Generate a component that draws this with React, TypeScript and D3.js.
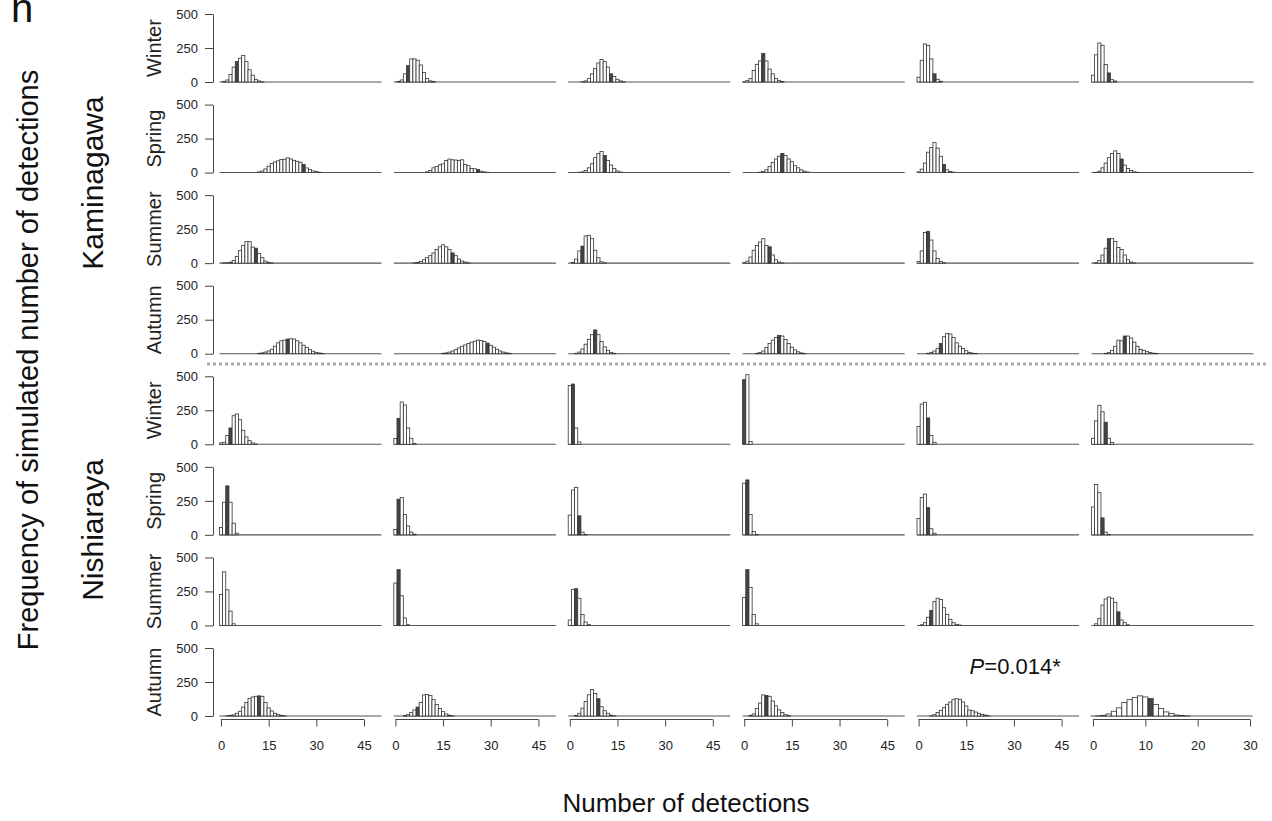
import { useEffect, useRef } from 'react';
import * as d3 from 'd3';

const seasons = ['Winter', 'Spring', 'Summer', 'Autumn'];
const sites = ['Kaminagawa', 'Nishiaraya'];

// simulated frequencies, index = number of detections (0, 1, 2, ...), one list per column
const kaminagawaWinter = [
    [0, 3, 15, 55, 110, 150, 175, 195, 150, 90, 50, 20, 8, 2],
    [0, 3, 15, 60, 120, 170, 170, 160, 125, 70, 25, 8, 3],
    [0, 0, 0, 0, 2, 8, 25, 60, 100, 140, 165, 150, 110, 60, 40, 20, 8, 2],
    [2, 10, 25, 85, 130, 155, 210, 155, 95, 60, 25, 10, 3],
    [35, 160, 280, 270, 170, 60, 20, 5],
    [50, 200, 287, 270, 128, 67, 17, 7],
];
const kaminagawaSpring = [
    [0, 0, 0, 0, 0, 0, 0, 0, 0, 0, 0, 0, 5, 12, 27, 47, 66, 78, 86, 96, 98, 108, 100, 90, 83, 76, 59, 34, 22, 12, 7, 3],
    [0, 0, 0, 0, 0, 0, 0, 0, 0, 0, 5, 15, 35, 45, 57, 64, 89, 99, 94, 92, 89, 94, 59, 50, 30, 28, 22, 10, 5, 2],
    [0, 0, 0, 2, 5, 15, 35, 65, 110, 140, 155, 125, 90, 55, 30, 12, 4],
    [0, 0, 0, 0, 0, 3, 8, 20, 45, 75, 100, 120, 140, 125, 100, 80, 50, 35, 20, 10, 4],
    [5, 25, 70, 150, 185, 220, 180, 120, 60, 20, 8, 3],
    [0, 2, 10, 35, 70, 110, 140, 160, 140, 100, 55, 30, 15, 5, 2],
];
const kaminagawaSummer = [
    [0, 2, 3, 7, 20, 50, 92, 129, 158, 158, 118, 110, 70, 40, 15, 5, 2],
    [0, 0, 0, 0, 0, 0, 2, 5, 12, 25, 40, 55, 75, 100, 120, 135, 120, 100, 75, 55, 30, 15, 8, 3],
    [0, 5, 30, 90, 125, 200, 205, 180, 95, 40, 10, 3],
    [3, 15, 45, 95, 130, 155, 180, 130, 120, 60, 25, 8, 2],
    [12, 90, 225, 232, 170, 90, 35, 12, 3],
    [0, 3, 20, 60, 110, 180, 180, 160, 115, 100, 60, 25, 8, 2],
];
const kaminagawaAutumn = [
    [0, 0, 0, 0, 0, 0, 0, 0, 0, 0, 0, 0, 3, 6, 12, 20, 33, 55, 80, 95, 100, 108, 110, 108, 95, 80, 62, 45, 30, 18, 10, 5, 2],
    [0, 0, 0, 0, 0, 0, 0, 0, 0, 0, 0, 0, 0, 0, 0, 3, 6, 12, 20, 30, 42, 55, 65, 75, 85, 92, 100, 97, 90, 78, 62, 48, 33, 20, 12, 6, 3],
    [0, 0, 3, 12, 35, 70, 105, 140, 175, 140, 90, 50, 25, 10, 3],
    [0, 0, 0, 0, 3, 8, 20, 45, 75, 100, 120, 135, 130, 105, 75, 48, 28, 14, 6, 2],
    [0, 0, 0, 3, 8, 20, 40, 75, 125, 150, 145, 120, 80, 55, 38, 22, 10, 4, 2],
    [0, 0, 0, 0, 3, 8, 25, 55, 100, 95, 130, 130, 115, 85, 55, 32, 25, 15, 8, 4, 2],
];
const nishiarayaWinter = [
    [10, 15, 64, 120, 210, 223, 181, 103, 54, 27, 10, 2],
    [42, 191, 311, 289, 120, 44, 7],
    [432, 443, 120, 17],
    [475, 512, 20],
    [132, 296, 309, 194, 64, 15],
    [44, 172, 287, 239, 162, 44, 13],
];
const nishiarayaSpring = [
    [54, 240, 360, 240, 86, 12],
    [40, 262, 275, 150, 65, 20, 5],
    [145, 330, 350, 140, 20, 3],
    [380, 404, 150, 25, 3],
    [120, 275, 300, 200, 45, 12],
    [205, 370, 310, 125, 20, 3],
];
const nishiarayaSummer = [
    [228, 394, 262, 105, 12],
    [312, 410, 218, 55, 5],
    [40, 265, 270, 200, 80, 25, 6],
    [205, 410, 280, 80, 12],
    [0, 5, 20, 60, 110, 175, 200, 190, 130, 80, 45, 20, 8, 3],
    [0, 12, 50, 150, 195, 209, 200, 170, 100, 40, 20, 5],
];
const nishiarayaAutumn = [
    [0, 0, 2, 5, 8, 20, 35, 66, 100, 130, 140, 145, 148, 145, 100, 60, 37, 20, 10, 5, 2],
    [0, 0, 0, 3, 10, 25, 45, 66, 100, 155, 158, 150, 120, 85, 55, 32, 15, 6, 2],
    [0, 0, 3, 20, 58, 107, 156, 195, 165, 127, 68, 39, 20, 6, 2],
    [0, 0, 5, 15, 55, 95, 155, 150, 145, 110, 75, 45, 25, 10, 3],
    [0, 0, 0, 0, 2, 10, 25, 42, 61, 86, 103, 123, 127, 123, 103, 74, 44, 39, 29, 20, 12, 7, 2],
    [0, 1, 5, 15, 35, 60, 100, 120, 135, 148, 140, 128, 85, 55, 30, 18, 7, 3, 1],
];

// observed number of detections (dark bar), -1 = outside the drawn bars
const observedKaminagawa = [
    [5, 4, 13, 6, 5, 5],
    [26, 26, 11, 12, 8, 9],
    [11, 18, 4, 8, 3, 5],
    [21, 29, 8, 11, 7, 10],
];
const observedNishiaraya = [
    [3, 1, 1, 0, 3, 4],
    [2, 1, 3, 1, 3, 3],
    [-1, 1, 2, 1, 4, 8],
    [12, 7, 9, 7, -1, 11],
];

const xTicksWide = [0, 15, 30, 45];
const xTicksNarrow = [0, 10, 20, 30];
const yTicks = [0, 250, 500];
const pValue = '0.014*';

const FONT = "'Liberation Sans', Arial, Helvetica, sans-serif";

const App = () => {
    const svgRef = useRef<SVGSVGElement>(null);

    useEffect(() => {
        if (!svgRef.current) return;
        const svg = d3.select(svgRef.current);
        svg.selectAll('*').remove();

        const rows = [
            kaminagawaWinter, kaminagawaSpring, kaminagawaSummer, kaminagawaAutumn,
            nishiarayaWinter, nishiarayaSpring, nishiarayaSummer, nishiarayaAutumn,
        ];
        const observed = [...observedKaminagawa, ...observedNishiaraya];

        // panel grid: x of "0" per column, baseline y per row
        const colPos = d3.scaleLinear().domain([0, 5]).range([221, 1093]);
        const rowPos = d3.scaleLinear().domain([0, 7]).range([82, 716]);
        const unitWide = 143 / 45;
        const unitNarrow = 157 / 30;
        const panelH = 68;

        const g = svg.append('g').style('font-family', FONT);

        rows.forEach((row, r) => {
            const base = rowPos(r);
            const y = d3.scaleLinear().domain([0, 500]).range([base, base - panelH]);

            // y axis
            const ya = g.append('g')
                .attr('transform', `translate(213,0)`)
                .call(d3.axisLeft(y).tickValues(yTicks).tickSize(8).tickPadding(7).tickSizeOuter(0));
            ya.select('.domain').attr('stroke', '#444').attr('stroke-width', 1);
            ya.selectAll('.tick line').attr('stroke', '#444');
            ya.selectAll('.tick text').attr('fill', '#222').style('font-size', '13px').style('font-family', FONT);

            // season label
            g.append('text')
                .attr('transform', `translate(161,${base - panelH / 2}) rotate(-90)`)
                .attr('text-anchor', 'middle')
                .attr('fill', '#222')
                .style('font-size', '20px')
                .text(seasons[r % 4]);

            row.forEach((counts, c) => {
                const narrow = r === 7 && c === 5;
                const maxBin = narrow ? 30 : 50;
                const unit = narrow ? unitNarrow : unitWide;
                const x0 = colPos(c);
                const x = d3.scaleLinear()
                    .domain([-0.5, maxBin + 0.5])
                    .range([x0 - 0.5 * unit, x0 + (maxBin + 0.5) * unit]);
                const obs = observed[r][c];

                // zero-height bins form the baseline
                g.append('line')
                    .attr('x1', x(-0.5)).attr('x2', x(maxBin + 0.5))
                    .attr('y1', y(0)).attr('y2', y(0))
                    .attr('stroke', '#555').attr('stroke-width', 1.1);

                const bins = counts.map((v, i) => ({ i, v })).filter(d => d.v > 0);
                g.append('g').selectAll('rect')
                    .data(bins)
                    .enter().append('rect')
                    .attr('x', d => x(d.i - 0.5))
                    .attr('y', d => y(d.v))
                    .attr('width', d => x(d.i + 0.5) - x(d.i - 0.5))
                    .attr('height', d => y(0) - y(d.v))
                    .attr('fill', d => (d.i === obs ? '#444' : '#fff'))
                    .attr('stroke', '#333')
                    .attr('stroke-width', 0.8);

                // x axis only under the last row
                if (r === 7) {
                    const ticks = narrow ? xTicksNarrow : xTicksWide;
                    const xa = g.append('g')
                        .attr('transform', `translate(0,${base + 3.5})`)
                        .call(d3.axisBottom(x).tickValues(ticks).tickSize(7).tickPadding(14));
                    xa.select('.domain').remove();
                    xa.append('line')
                        .attr('x1', x(ticks[0])).attr('x2', x(ticks[ticks.length - 1]))
                        .attr('stroke', '#444');
                    xa.selectAll('.tick line').attr('stroke', '#444');
                    xa.selectAll('.tick text').attr('fill', '#222').style('font-size', '13px').style('font-family', FONT);
                }

                if (r === 7 && c === 4) {
                    const t = g.append('text')
                        .attr('x', x(0) + 51)
                        .attr('y', base - 42)
                        .attr('fill', '#111')
                        .style('font-size', '22px');
                    t.append('tspan').style('font-style', 'italic').text('P');
                    t.append('tspan').text(`=${pValue}`);
                }
            });
        });

        // separator between sites
        g.append('line')
            .attr('x1', 207).attr('x2', 1268)
            .attr('y1', 364).attr('y2', 364)
            .attr('stroke', '#aaa').attr('stroke-width', 3)
            .attr('stroke-dasharray', '3,3');

        // site labels
        const siteCenters = [183, 530];
        sites.forEach((s, i) => {
            g.append('text')
                .attr('transform', `translate(103,${siteCenters[i]}) rotate(-90)`)
                .attr('text-anchor', 'middle')
                .attr('fill', '#111')
                .style('font-size', '30px')
                .text(s);
        });

        g.append('text')
            .attr('transform', 'translate(38,360) rotate(-90)')
            .attr('text-anchor', 'middle')
            .attr('fill', '#111')
            .style('font-size', '29px')
            .text('Frequency of simulated number of detections');

        g.append('text')
            .attr('x', 686).attr('y', 812)
            .attr('text-anchor', 'middle')
            .attr('fill', '#111')
            .style('font-size', '26px')
            .text('Number of detections');

        g.append('text')
            .attr('x', 11).attr('y', 22)
            .attr('fill', '#111')
            .style('font-size', '40px')
            .text('n');
    }, []);

    return (
        <svg ref={svgRef} width={1272} height={821}
            style={{ position: 'absolute', left: 0, top: 0, background: '#fff' }} />
    );
};

export default App;
